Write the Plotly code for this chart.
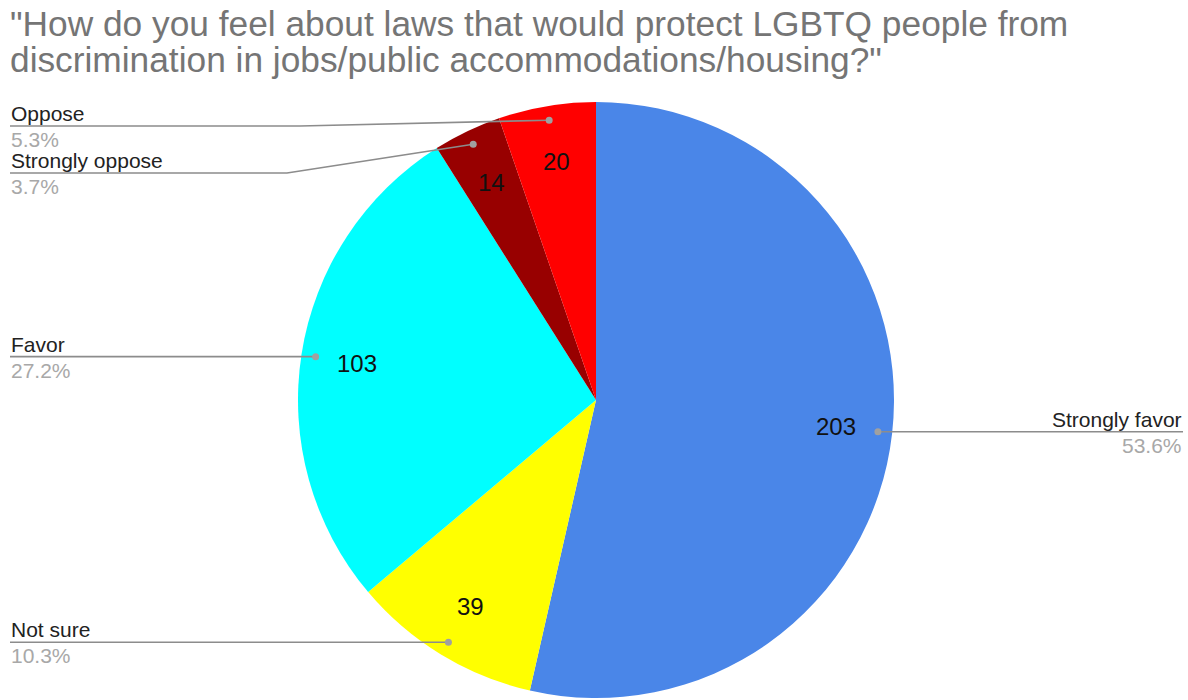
import math
import plotly.graph_objects as go

# ---- data ----
labels = ["Strongly favor", "Not sure", "Favor", "Strongly oppose", "Oppose"]
values = [203, 39, 103, 14, 20]
colors = ["#4a86e8", "#ffff00", "#00ffff", "#980000", "#ff0000"]
title_lines = ['"How do you feel about laws that would protect LGBTQ people from',
               'discrimination in jobs/public accommodations/housing?"']

# ---- layout (pixels) ----
W, H = 1188, 700
CX, CY, R = 596, 400, 298
# label layout: side, label line y (None = dot y), elbow x (None = straight)
label_layout = {
    "Strongly favor": ("right", None, None),
    "Not sure": ("left", None, None),
    "Favor": ("left", None, None),
    "Strongly oppose": ("left", 173, 287),
    "Oppose": ("left", 126, 300),
}
LEFT_X, RIGHT_X = 10, 1183

FONT = "Arial, 'Liberation Sans', sans-serif"

def px(x):
    return x / W

def py(y):
    return 1 - y / H

fig = go.Figure(go.Pie(
    labels=labels, values=values, sort=False, direction="clockwise", rotation=0,
    marker=dict(colors=colors, line=dict(width=0)),
    textinfo="none", hoverinfo="label+value+percent", showlegend=False,
    domain=dict(x=[px(CX - R), px(CX + R)], y=[1 - (CY + R) / H, 1 - (CY - R) / H]),
))

total = sum(values)
annotations = []
shapes = []
cum = 0
for lab, v in zip(labels, values):
    mid = (cum + v / 2) / total * 2 * math.pi
    cum += v
    sx, sy = math.sin(mid), -math.cos(mid)
    # value inside slice
    annotations.append(dict(x=px(CX + 0.81 * R * sx), y=py(CY + 0.81 * R * sy),
                            xref="paper", yref="paper", text=str(v), showarrow=False,
                            font=dict(family=FONT, size=24, color="#111111"),
                            xanchor="center", yanchor="middle"))
    # leader dot
    dx, dy = CX + 0.952 * R * sx, CY + 0.952 * R * sy
    side, ly, ex = label_layout[lab]
    if ly is None:
        ly = dy
    endx = RIGHT_X if side == "right" else LEFT_X
    pts = [(dx, dy)]
    if ex is not None:
        pts.append((ex, ly))
    else:
        pts.append((dx, ly))
    pts.append((endx, ly))
    path = "M " + " L ".join(f"{px(a)},{py(b)}" for a, b in pts)
    shapes.append(dict(type="path", path=path, xref="paper", yref="paper",
                       line=dict(color="#8c8c8c", width=1.6)))
    shapes.append(dict(type="circle", xref="paper", yref="paper",
                       x0=px(dx - 3.5), x1=px(dx + 3.5), y0=py(dy + 3.5), y1=py(dy - 3.5),
                       fillcolor="#a0a0a0", line=dict(width=0)))
    xa = "right" if side == "right" else "left"
    annotations.append(dict(x=px(endx), y=py(ly - 12.5), xref="paper", yref="paper",
                            text=lab, showarrow=False, xanchor=xa, yanchor="middle",
                            borderpad=0,
                            font=dict(family=FONT, size=21, color="#222222")))
    annotations.append(dict(x=px(endx), y=py(ly + 13.5), xref="paper", yref="paper",
                            text=f"{v / total * 100:.1f}%", showarrow=False, xanchor=xa,
                            yanchor="middle", borderpad=0,
                            font=dict(family=FONT, size=21, color="#a8a8a8")))

for i, t in enumerate(title_lines):
    annotations.append(dict(x=px(8), y=py(24 + 35 * i), xref="paper", yref="paper",
                            text=t, showarrow=False, xanchor="left", yanchor="middle",
                            font=dict(family=FONT, size=35.3, color="#757575")))

fig.update_layout(width=W, height=H, margin=dict(l=0, r=0, t=0, b=0),
                  paper_bgcolor="white", plot_bgcolor="white",
                  annotations=annotations, shapes=shapes)
fig.write_html("out.html")
